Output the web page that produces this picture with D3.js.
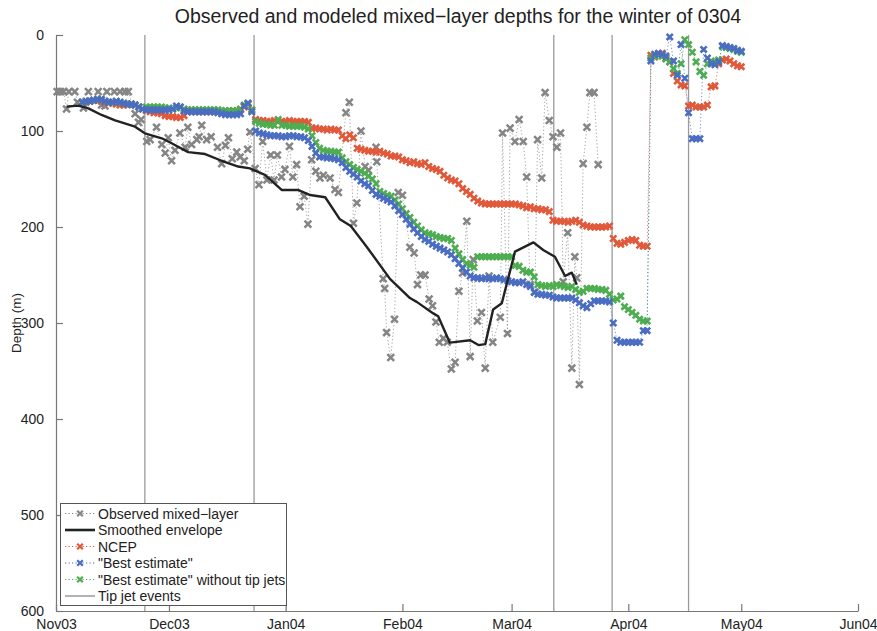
<!DOCTYPE html>
<html><head><meta charset="utf-8">
<script src="https://cdn.jsdelivr.net/npm/d3@7/dist/d3.min.js"></script>
<style>body{margin:0;background:#fff}text{font-family:"Liberation Sans",Arial,sans-serif;fill:#222}</style>
</head><body>
<svg id="chart" width="877" height="631"></svg>
<script>
// ---------- DATA ----------
const titleText = "Observed and modeled mixed\u2212layer depths for the winter of 0304";
const yLabel = "Depth (m)";
const xTickDates = ["2003-11-01","2003-12-01","2004-01-01","2004-02-01","2004-03-01","2004-04-01","2004-05-01","2004-06-01"];
const xTickLabels = ["Nov03","Dec03","Jan04","Feb04","Mar04","Apr04","May04","Jun04"];
const yTicks = [0,100,200,300,400,500,600];
// days after 1 Nov 2003
const tipJetDays = [23.6, 52.6, 132.2, 147.7, 168.0];

const obsDays = [0.3,1.2,2.0,2.8,3.4,5.0,5.7,7.3,8.6,11.2,12.1,13.0,13.5,15.5,17.0,18.3,19.2,21.0,21.9,22.6,
 24.1,25.0,26.7,28.1,29.0,29.8,30.7,31.6,32.9,34.3,35.0,36.0,37.4,38.0,38.7,40.0,41.2,42.9,44.0,45.0,
 45.8,46.8,48.0,48.9,50.0,50.9,51.5,52.9,53.9,54.9,56.0,57.0,57.9,58.8,59.9,60.8,62.0,62.9,63.9,64.8,
 65.9,66.9,67.9,69.0,70.1,71.0,72.8,74.1,75.0,77.0,77.9,79.0,79.9,81.0,82.1,83.0,85.0,85.2,86.9,87.3,
 87.8,88.9,89.9,90.9,92.0,94.0,95.1,96.0,96.9,98.0,99.1,100.0,100.9,101.8,102.9,103.9,105.0,106.0,107.0,108.0,
 109.1,110.0,110.8,111.9,113.0,114.0,115.0,116.0,118.0,118.6,119.9,120.6,121.9,123.0,124.1,125.0,125.9,127.2,127.9,129.0,
 129.9,131.0,132.0,133.0,134.0,134.7,135.9,137.0,137.8,138.3,139.0,140.0,141.0,141.8,142.9,144.0];
const obsDepth = [59,59,59,77,59,59,70,76,59,59,73,74,59,59,59,59,59,82,91,88,
 111,109,96,114,123,107,131,120,102,117,96,114,109,106,94,109,106,117,134,115,
 107,129,122,127,131,119,101,139,156,111,151,125,151,125,148,140,116,148,135,179,
 168,197,130,142,149,146,149,161,164,81,70,196,175,100,137,141,117,132,254,264,
 310,336,296,164,167,221,227,260,250,250,275,282,299,320,316,320,348,341,267,248,
 194,335,234,298,289,347,251,320,294,102,311,97,111,88,111,148,260,268,109,149,
 60,89,106,117,102,257,206,347,231,253,364,134,96,60,60,135];

const envDays = [2.8,5.9,8.6,12.1,15.7,21.0,23.6,28.1,30.7,35.1,39.6,44.0,48.4,51.5,55.5,60.0,64.4,67.5,71.5,75.4,
 78.3,82.5,88.7,94.0,95.8,100.2,101.5,104.6,110.0,112.2,114.0,116.1,118.4,121.9,126.8,129.4,132.5,135.2,137.0,138.3];
const envDepth = [74.6,73.6,76.4,83.3,89.0,95.5,102.4,107.6,112.8,122.0,124.0,131.0,137.0,139.0,145.8,161.5,161.5,166.7,169.0,192.0,
 199.0,220.5,254.0,274.0,278.0,290.0,293.0,320.5,318.0,323.0,322.0,286.0,279.5,225.7,216.0,224.0,231.0,251.0,247.6,260.0];

// model series: one value per day, starting at day 7 (8 Nov 2003)
const modelStartDay = 7;
const ncep = [70,70,69,68,68,69,70,71,71,72,73,73,73,72,73,75,77,79,80,81,
 81,82,84,85,85,86,86,84,80,80,80,80,80,80,80,80,80,80,79,79,
 79,79,78,75,72,78,88,89,89,90,90,89,90,90,90,89,90,90,90,90,
 91,97,97,98,98,99,98,99,99,105,108,104,107,118,119,120,121,121,122,121,
 123,124,126,126,127,130,131,133,132,134,135,133,137,139,140,142,146,149,151,152,
 155,160,163,166,170,173,175,176,176,176,176,176,176,176,176,176,177,178,180,179,
 181,181,182,182,184,193,194,194,194,195,194,193,195,198,199,200,200,200,200,200,
 199,212,217,218,216,214,213,214,219,220,220,21,23,20,19,24,28,40,48,52,
 53,74,73,75,75,75,73,54,53,30,26,25,27,30,32,33];
const bestEst = [70,69,69,68,67,67,69,70,70,69,70,71,72,72,73,75,77,78,78,78,
 78,78,78,78,77,74,75,79,80,80,80,80,80,80,80,80,81,82,83,83,
 83,83,82,74,71,80,100,102,103,104,105,105,105,106,106,105,105,106,106,107,
 110,116,123,127,127,128,128,129,130,133,138,142,145,148,152,155,157,162,166,168,
 170,172,174,178,183,187,192,197,202,206,210,213,215,218,220,222,224,226,229,233,
 238,243,247,251,253,253,254,253,254,254,253,254,255,256,257,258,258,257,260,262,
 268,270,270,271,271,273,274,274,274,274,274,276,279,282,284,280,277,277,277,277,
 278,300,318,320,320,320,320,320,320,308,308,27,20,19,20,22,2,27,42,10,
 45,81,108,108,108,15,24,30,31,28,11,12,13,14,16,17];
const noTipJets = [70,69,69,68,67,67,69,70,70,69,70,71,72,72,73,75,77,75,75,75,
 75,75,76,76,77,76,75,77,78,78,78,78,78,78,78,78,78,79,79,79,
 79,79,77,73,71,78,90,92,93,93,94,94,88,94,94,95,95,95,95,96,
 98,105,112,118,120,121,121,122,122,128,132,135,138,140,142,144,147,150,155,163,
 165,167,168,172,176,181,186,190,195,199,203,206,207,208,210,211,212,212,214,222,
 228,234,238,240,242,231,231,231,231,231,231,231,231,231,231,240,241,245,247,247,
 252,260,261,262,261,262,260,261,262,263,262,265,268,267,264,264,264,265,265,266,
 270,276,275,272,283,286,289,292,296,298,298,24,22,21,22,25,28,35,40,30,
 5,10,18,28,38,42,30,27,28,26,12,13,14,15,17,18];

const legendLabels = ["Observed mixed\u2212layer","Smoothed envelope","NCEP","\"Best estimate\"","\"Best estimate\" without tip jets","Tip jet events"];
const colors = {obs:"#858585", env:"#222222", ncep:"#E0593A", best:"#4A6DC2", noTip:"#4DAD4F", jet:"#9a9a9a"};

// ---------- CHART ----------
const svg = d3.select("#chart");
const L = 56, R = 858, T = 35, B = 611;
const t0 = Date.UTC(2003,10,1);
const dayToDate = d => new Date(t0 + d*86400000);
const x = d3.scaleUtc().domain([new Date(xTickDates[0]), new Date(xTickDates[xTickDates.length-1])]).range([L,R]);
const y = d3.scaleLinear().domain([0,600]).range([T,B]);

svg.append("rect").attr("width",877).attr("height",631).attr("fill","#fff");

svg.append("text").attr("x",458).attr("y",23).attr("text-anchor","middle")
  .style("font-size","19.5px").text(titleText);

svg.append("text").attr("transform","translate(21,323) rotate(-90)").attr("text-anchor","middle")
  .style("font-size","13.5px").text(yLabel);

// axes
const xAxis = d3.axisBottom(x).tickValues(xTickDates.map(s=>new Date(s)))
  .tickFormat((d,i)=>xTickLabels[i]).tickSizeInner(-7).tickSizeOuter(0).tickPadding(13);
const gx = svg.append("g").attr("transform",`translate(0,${B})`).call(xAxis);
const yAxis = d3.axisLeft(y).tickValues(yTicks).tickSizeInner(-7).tickSizeOuter(0).tickPadding(12);
const gy = svg.append("g").attr("transform",`translate(${L},0)`).call(yAxis);
[gx,gy].forEach(g=>{
  g.select(".domain").attr("stroke","#777").attr("stroke-width",1.2);
  g.selectAll(".tick line").attr("stroke","#777").attr("stroke-width",1.2);
  g.selectAll(".tick text").style("font-size","14px").style("font-family","'Liberation Sans',Arial,sans-serif").attr("fill","#222");
});
gx.selectAll(".tick text").attr("dy","0.35em");

// tip jet lines
svg.append("g").selectAll("line").data(tipJetDays).join("line")
  .attr("x1",d=>x(dayToDate(d))).attr("x2",d=>x(dayToDate(d)))
  .attr("y1",T).attr("y2",B).attr("stroke",colors.jet).attr("stroke-width",1.3);

const xPath = s => `M${-s},${-s}L${s},${s}M${-s},${s}L${s},${-s}`;
function drawSeries(days, vals, color, ms, sw){
  const pts = days.map((d,i)=>[x(dayToDate(d)), y(vals[i])]);
  svg.append("path").attr("d", d3.line()(pts)).attr("fill","none")
    .attr("stroke",color).attr("stroke-width",1).attr("stroke-dasharray","1.2,2.3").attr("opacity",0.75);
  svg.append("g").selectAll("path").data(pts).join("path")
    .attr("transform",p=>`translate(${p[0]},${p[1]})`).attr("d",xPath(ms))
    .attr("stroke",color).attr("stroke-width",sw).attr("fill","none");
}
const modelDays = ncep.map((v,i)=>modelStartDay+i);

drawSeries(obsDays, obsDepth, colors.obs, 3.4, 2.5);
drawSeries(modelDays, ncep, colors.ncep, 3.1, 2.6);
drawSeries(modelDays, noTipJets, colors.noTip, 3.1, 2.6);
drawSeries(modelDays, bestEst, colors.best, 3.1, 2.6);

svg.append("path").attr("d", d3.line()(envDays.map((d,i)=>[x(dayToDate(d)), y(envDepth[i])])))
  .attr("fill","none").attr("stroke",colors.env).attr("stroke-width",2.4).attr("stroke-linejoin","round");

// legend
const lg = svg.append("g");
lg.append("rect").attr("x",60.5).attr("y",503.5).attr("width",226).attr("height",102)
  .attr("fill","#fff").attr("stroke","#555").attr("stroke-width",1);
const rowY = [513.5,530,546.5,563,579.5,596];
const legendStyles = [
  {c:colors.obs,type:"mk"},{c:colors.env,type:"thick"},{c:colors.ncep,type:"mk"},
  {c:colors.best,type:"mk"},{c:colors.noTip,type:"mk"},{c:"#666",type:"thin"}];
legendStyles.forEach((s,i)=>{
  const yy = rowY[i];
  if(s.type==="mk"){
    lg.append("line").attr("x1",65).attr("x2",95).attr("y1",yy).attr("y2",yy)
      .attr("stroke",s.c).attr("stroke-width",1).attr("stroke-dasharray","1.2,2.3");
    lg.append("path").attr("transform",`translate(80,${yy})`).attr("d",xPath(2.8))
      .attr("stroke",s.c).attr("stroke-width",2.2).attr("fill","none");
  } else {
    lg.append("line").attr("x1",65).attr("x2",95).attr("y1",yy).attr("y2",yy)
      .attr("stroke",s.c).attr("stroke-width",s.type==="thick"?2.6:1);
  }
  lg.append("text").attr("x",98).attr("y",yy+5).style("font-size","14px").text(legendLabels[i]);
});
</script>
</body></html>
